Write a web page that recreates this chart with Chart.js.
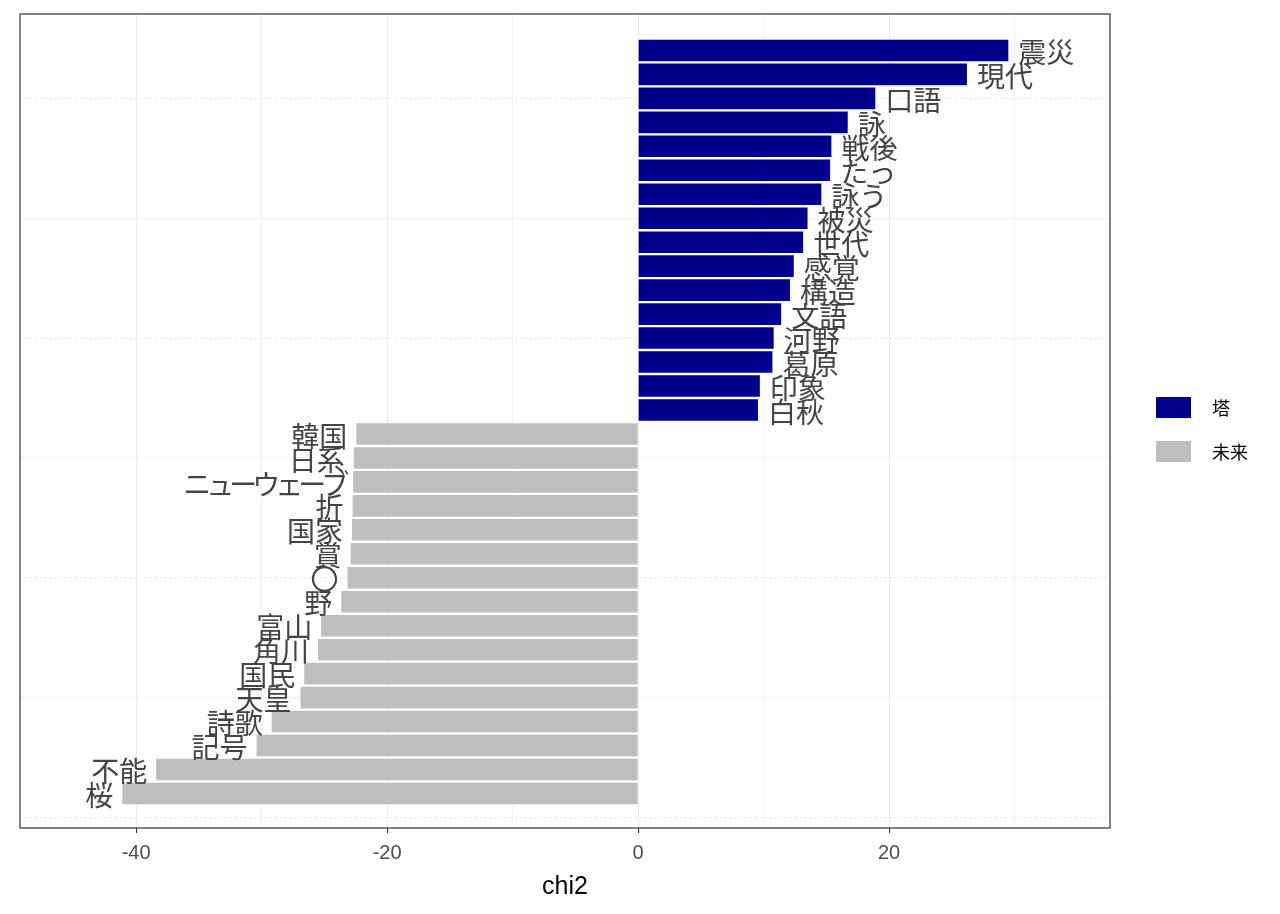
<!DOCTYPE html>
<html>
<head>
<meta charset="utf-8">
<script src="https://cdn.jsdelivr.net/npm/chart.js@4.4.0/dist/chart.umd.min.js"></script>
<style>
  html, body { margin: 0; padding: 0; background: #fff; }
  canvas { display: block; }
</style>
</head>
<body>
<canvas id="chart" width="1280" height="914"></canvas>
<script>
// words with their chi2 scores, top to bottom as in the plot
const touWords = ['震災', '現代', '口語', '詠', '戦後', 'たっ', '詠う', '被災', '世代', '感覚', '構造', '文語', '河野', '葛原', '印象', '白秋'];
const touChi2 = [29.5, 26.2, 18.9, 16.7, 15.4, 15.3, 14.6, 13.5, 13.15, 12.4, 12.1, 11.4, 10.8, 10.7, 9.7, 9.55];

const miraiWords = ['韓国', '日系', 'ニューウェーブ', '折', '国家', '賞', '〇', '野', '富山', '角川', '国民', '天皇', '詩歌', '記号', '不能', '桜'];
const miraiChi2 = [-22.45, -22.65, -22.7, -22.75, -22.8, -22.9, -23.15, -23.65, -25.25, -25.5, -26.6, -26.9, -29.2, -30.4, -38.4, -41.1];

const seriesNames = ['塔', '未来'];
const xTickLabels = [-40, -20, 0, 20];

const total = touWords.length + miraiWords.length;

// rank position on the y axis (1 = bottom bar)
const touData = touChi2.map((v, i) => ({ x: v, y: total - i }));
const miraiData = miraiChi2.map((v, i) => ({ x: v, y: miraiWords.length - i }));

const labelFont = '28px "Noto Sans CJK JP", sans-serif';

// word labels at the end of each bar
const wordLabels = {
  id: 'wordLabels',
  afterDatasetsDraw(chart) {
    const ctx = chart.ctx;
    const words = [touWords, miraiWords];
    ctx.save();
    ctx.font = labelFont;
    ctx.fillStyle = '#444';
    ctx.textBaseline = 'middle';
    chart.data.datasets.forEach((ds, d) => {
      chart.getDatasetMeta(d).data.forEach((bar, i) => {
        const txt = words[d][i];
        const neg = ds.data[i].x < 0;
        ctx.letterSpacing = /[\u30A0-\u30FF]/.test(txt) ? '-5px' : '0px';
        ctx.textAlign = neg ? 'right' : 'left';
        ctx.fillText(txt, neg ? bar.x - 9 : bar.x + 10, bar.y + 2);
      });
    });
    ctx.restore();
  },
};

// panel border and legend on the right
const frameAndLegend = {
  id: 'frameAndLegend',
  afterDraw(chart) {
    const ctx = chart.ctx;
    const a = chart.chartArea;
    ctx.save();
    ctx.strokeStyle = '#333';
    ctx.lineWidth = 1.2;
    ctx.strokeRect(a.left, a.top, a.right - a.left, a.bottom - a.top);

    const mid = (a.top + a.bottom) / 2;
    ctx.font = '18px "Noto Sans CJK JP", sans-serif';
    ctx.textBaseline = 'middle';
    ctx.textAlign = 'left';
    chart.data.datasets.forEach((ds, d) => {
      const top = mid - 24 + d * 44;
      ctx.fillStyle = ds.backgroundColor;
      ctx.fillRect(a.right + 46, top, 35, 21);
      ctx.fillStyle = '#000';
      ctx.fillText(ds.label, a.right + 102, top + 11);
    });
    ctx.restore();
  },
};

new Chart(document.getElementById('chart'), {
  type: 'bar',
  data: {
    datasets: [
      { label: seriesNames[0], data: touData, backgroundColor: '#00008B', grouped: false },
      { label: seriesNames[1], data: miraiData, backgroundColor: '#BEBEBE', grouped: false },
    ],
  },
  options: {
    indexAxis: 'y',
    responsive: false,
    animation: false,
    barPercentage: 0.9,
    categoryPercentage: 1,
    layout: { padding: { left: 20, top: 14, right: 170, bottom: 0 } },
    plugins: {
      legend: { display: false },
      tooltip: { enabled: false },
    },
    scales: {
      x: {
        type: 'linear',
        min: -49.25,
        max: 37.6,
        afterFit: (s) => { s.height = 86; },
        ticks: {
          stepSize: 10,
          includeBounds: false,
          autoSkip: false,
          maxRotation: 0,
          padding: 8,
          color: '#4D4D4D',
          font: { family: '"Liberation Sans", Arial, sans-serif', size: 20 },
          callback: (v) => (xTickLabels.includes(v) ? String(v) : ''),
        },
        grid: {
          color: '#EBEBEB',
          lineWidth: (c) => (c.tick && c.tick.value % 20 === 0 ? 1.1 : 0.6),
          tickLength: 5,
          tickWidth: 1.1,
          tickColor: (c) => (c.tick && c.tick.value % 20 === 0 ? '#333' : 'rgba(0,0,0,0)'),
        },
        border: { display: false },
        title: {
          display: true,
          text: 'chi2',
          color: '#000',
          font: { family: '"Liberation Sans", Arial, sans-serif', size: 25 },
          padding: { top: 0, bottom: 12 },
        },
      },
      y: {
        type: 'linear',
        offset: false,
        min: -0.44,
        max: 33.52,
        ticks: { display: false, stepSize: 5, includeBounds: false },
        grid: {
          offset: false,
          drawTicks: false,
          color: (c) => (c.tick && c.tick.value % 10 === 0 ? '#DDDDDD' : '#EBEBEB'),
          lineWidth: (c) => (c.tick && c.tick.value % 10 === 0 ? 1.1 : 0.6),
        },
        border: {
          display: false,
          dash: (c) => (c.tick && c.tick.value % 10 === 0 ? [1.5, 3.5] : []),
        },
      },
    },
  },
  plugins: [wordLabels, frameAndLegend],
});
</script>
</body>
</html>
